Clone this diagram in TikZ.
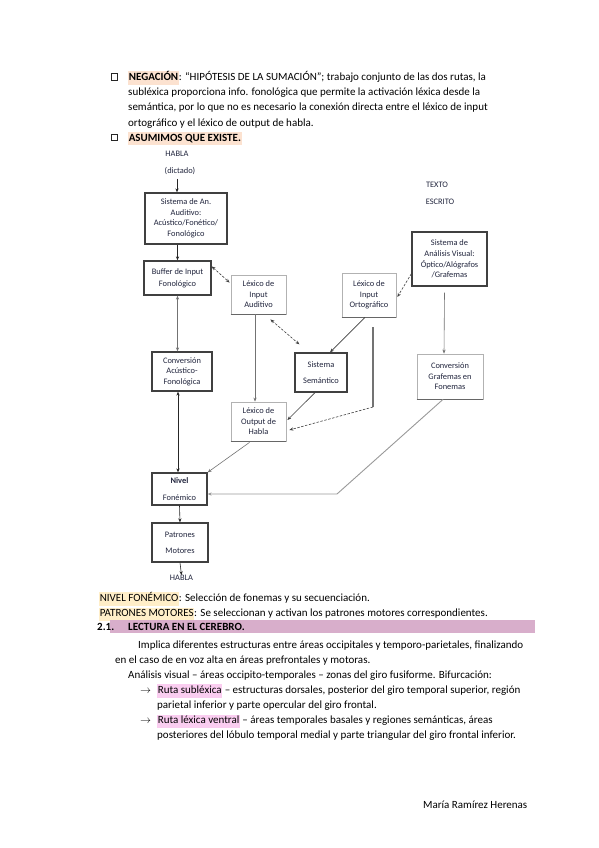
\documentclass[tikz,border=0pt]{standalone}
\usepackage{fontspec}
\setmainfont{Carlito}
\usetikzlibrary{arrows.meta,calc}
\definecolor{peach}{RGB}{252,226,208}
\definecolor{lightyel}{RGB}{255,238,200}
\definecolor{pinkhl}{RGB}{250,205,240}
\definecolor{bandc}{RGB}{216,174,203}
\definecolor{dtext}{RGB}{34,38,62}
\newcommand\mkhl[2]{{\setlength\fboxsep{0.6pt}\colorbox{#1}{\strut #2}}}
\newcommand\dfont{\fontsize{8.4}{10.6}\selectfont}
\newcommand\dfontw{\fontsize{8.4}{16}\selectfont}
\tikzset{
  txt/.style={anchor=base west, inner sep=0, font=\fontsize{11}{12}\selectfont},
  chk/.style={draw=black!85, line width=0.7pt, minimum size=6.5pt, inner sep=0},
  lab/.style={inner sep=0, font=\dfont, text=dtext},
  bx/.style={draw=black!75, line width=1.3pt, fill=white, align=center, inner sep=0, text=dtext, font=\dfont},
  lbx/.style={draw=black!30, line width=0.8pt, fill=white, align=center, inner sep=0, text=dtext, font=\dfont},
  arr/.style={-{Stealth[length=4pt,width=3.2pt]}, line width=0.6pt, draw=black!55},
  darr/.style={{Stealth[length=4pt,width=3.2pt]}-{Stealth[length=4pt,width=3.2pt]}, line width=0.6pt, draw=black!55},
  dsh/.style={dash pattern=on 2.5pt off 1.5pt},
  shadowline/.style={draw=black!60, line width=1pt}
}
\begin{document}
\begin{tikzpicture}[x=1pt,y=-1pt]
\useasboundingbox (0,0) rectangle (599,848);
\fill[white] (0,0) rectangle (599,848);

% ---- top text
\node[chk] (cb1) at (114.5,77) {};
\node[txt] (t1) at (128,80.5) {\mkhl{peach}{\textbf{NEGACIÓN}}: “HIPÓTESIS DE LA SUMACIÓN”; trabajo conjunto de las dos rutas, la};
\node[txt] (t2) at (128,95.8) {subléxica proporciona info. fonológica que permite la activación léxica desde la};
\node[txt] (t3) at (128,111) {semántica, por lo que no es necesario la conexión directa entre el léxico de input};
\node[txt] (t4) at (128,126.2) {ortográfico y el léxico de output de habla.};
\node[chk] (cb2) at (114.5,137.5) {};
\node[txt] (t5) at (128,141.2) {\mkhl{peach}{\textbf{ASUMIMOS QUE EXISTE.}}};

% ---- diagram labels
\node[lab] (habla1) at (177,154) {HABLA};
\node[lab] (dictado) at (180,171) {(dictado)};
\node[lab] (texto) at (437,185) {TEXTO};
\node[lab] (escrito) at (440,202) {ESCRITO};
\node[lab] (habla2) at (181.5,578) {HABLA};

% ---- boxes
\node[bx, minimum width=82, minimum height=51] (A) at (186,218.5) {Sistema de An.\\ Auditivo:\\ Acústico/Fonético/\\ Fonológico};
\node[bx, minimum width=67, minimum height=34, font=\fontsize{8.4}{12}\selectfont] (B) at (177.5,278) {Buffer de Input\\ Fonológico};
\node[lbx, minimum width=55, minimum height=39] (C) at (258.5,294.5) {Léxico de\\ Input\\ Auditivo};
\node[bx, minimum width=60, minimum height=39] (D) at (182,371.5) {Conversión\\ Acústico-\\ Fonológica};
\node[lbx, minimum width=55, minimum height=39] (E) at (258.5,421.5) {Léxico de\\ Output de\\ Habla};
\node[bx, minimum width=52, minimum height=39, font=\dfontw] (F) at (321,372.5) {Sistema\\ Semántico};
\node[lbx, minimum width=54, minimum height=44] (G) at (369,295) {Léxico de\\ Input\\ Ortográfico};
\node[bx, minimum width=75, minimum height=54] (H) at (449.5,259) {Sistema de\\ Análisis Visual:\\ Óptico/Alógrafos\\ /Grafemas};
\node[lbx, minimum width=66, minimum height=45] (I) at (450,376.5) {Conversión\\ Grafemas en\\ Fonemas};
\node[bx, minimum width=55, minimum height=32, font=\fontsize{8.4}{16.5}\selectfont] (J) at (179.5,489) {\textbf{Nivel}\\ Fonémico};
\node[bx, minimum width=56, minimum height=39, font=\dfontw] (K) at (180,542.5) {Patrones\\ Motores};

\foreach \b in {C,E,G,I} \draw[shadowline] (\b.south west) -- (\b.south east);

% ---- connectors
\draw[arr, draw=black!85] ($(dictado.south)+(-3,4)$) -- ($(A.north)+(-9,0)$);
\draw[arr, draw=black!85] ($(A.south)+(-8.5,0)$) -- (B.north);
\draw[darr, dsh, draw=black!75] ($(B.north east)+(0,6)$) -- ($(C.north west)+(-1,8)$);
\draw[darr] (B.south) -- ($(D.north)+(-4.5,0)$);
\draw[darr, draw=black!85] ($(D.south)+(-4,0)$) -- ($(J.north)+(-1.5,0)$);
\draw[arr] ($(C.south)+(-3.5,0)$) -- ($(E.north)+(-3.5,0)$);
\draw[darr, dsh, draw=black!75] ($(C.south east)+(-16,5)$) -- ($(F.north west)+(5,-8)$);
\draw[arr, draw=black!75] ($(G.south)+(-4,0)$) -- ($(F.north)+(9,0)$);
\coordinate (oa) at (373,327);
\coordinate (ob) at (373,407);
\draw[line width=1.2pt, draw=black!55] (oa) -- (ob);
\draw[arr, dsh, draw=black!75] (ob) -- ($(E.east)+(3,8.5)$);
\draw[arr, dsh, draw=black!75] ($(H.south west)+(0,-13)$) -- ($(G.east)+(1,2)$);
\draw[arr] ($(H.south)+(-5,6)$) -- ($(I.north)+(-6,0)$);
\coordinate (gb) at (337,494);
\draw[arr, line width=0.9pt, draw=black!40] ($(I.south)+(-7,0)$) -- (gb) -- ($(J.east)+(0,5)$);
\draw[arr] ($(E.south)+(-9,1)$) -- (J.north east);
\draw[arr, draw=black!75] ($(F.south)+(-6,0)$) -- ($(E.east)+(1,-1.5)$);
\draw[arr, draw=black!85] (J.south) -- (K.north);
\draw[arr, draw=black!85] (K.south) -- (habla2.north);

% ---- bottom text
\node[txt] (b1) at (99,601.5) {\mkhl{lightyel}{NIVEL FONÉMICO}: Selección de fonemas y su secuenciación.};
\node[txt] (b2) at (99,616.5) {\mkhl{lightyel}{PATRONES MOTORES}: Se seleccionan y activan los patrones motores correspondientes.};
\fill[bandc] (110,620) rectangle (535,633);
\node[txt] (h1) at (97,630.5) {\textbf{2.1.}};
\node[txt] (h2) at (128,630.5) {\textbf{LECTURA EN EL CEREBRO.}};
\node[txt] (b3) at (138,648) {Implica diferentes estructuras entre áreas occipitales y temporo-parietales, finalizando};
\node[txt] (b4) at (115,663) {en el caso de en voz alta en áreas prefrontales y motoras.};
\node[txt] (b5) at (128,678) {Análisis visual – áreas occipito-temporales – zonas del giro fusiforme. Bifurcación:};
\node[txt] (a1) at (140,693.3) {$\rightarrow$};
\node[txt] (b6) at (157,693.3) {\mkhl{pinkhl}{Ruta subléxica} – estructuras dorsales, posterior del giro temporal superior, región};
\node[txt] (b7) at (157,708.3) {parietal inferior y parte opercular del giro frontal.};
\node[txt] (a2) at (140,723.6) {$\rightarrow$};
\node[txt] (b8) at (157,723.6) {\mkhl{pinkhl}{Ruta léxica ventral} – áreas temporales basales y regiones semánticas, áreas};
\node[txt] (b9) at (157,738.6) {posteriores del lóbulo temporal medial y parte triangular del giro frontal inferior.};
\node[txt] (sig) at (423,808.5) {María Ramírez Herenas};
\end{tikzpicture}
\end{document}
